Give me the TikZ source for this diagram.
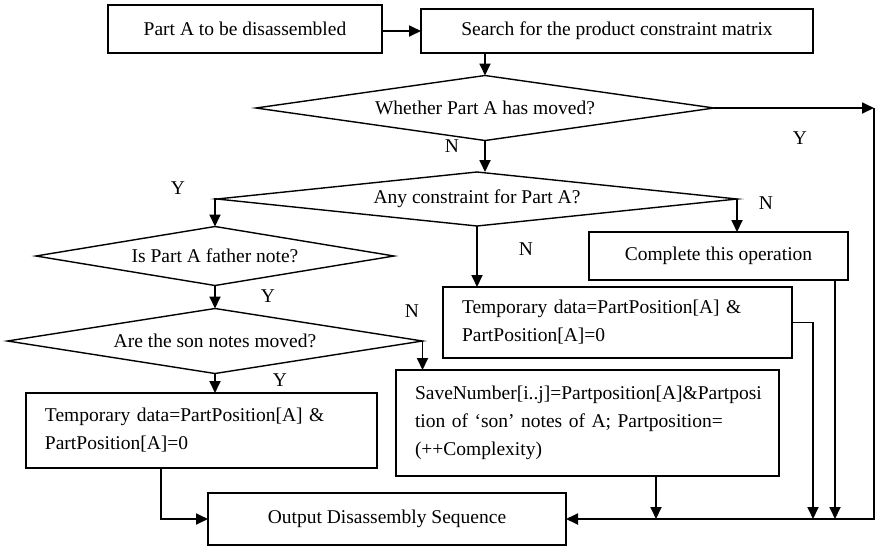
\documentclass[tikz,border=0pt]{standalone}
\usepackage{fontspec}
\setmainfont{Liberation Serif}
\usepackage{tikz}
\usetikzlibrary{arrows.meta, shapes.geometric}

\begin{document}
\begin{tikzpicture}[x=1pt, y=-1pt,
        font=\fontsize{19.5}{28}\selectfont,
        box/.style={draw, line width=1.4pt, inner sep=0pt, outer sep=0pt},
        textbox/.style={box, align=left, inner xsep=19pt},
        decision/.style={draw, diamond, line width=1.4pt, inner sep=0pt, outer sep=0pt, aspect=8},
        flow/.style={line width=1.8pt, -{Triangle[length=12pt, width=11pt]}},
        line/.style={line width=1.8pt}]
        \useasboundingbox (0,0) rectangle (876,547);

        % Boxes
        \node[box, minimum width=274pt, minimum height=48pt] (part) at (245,29) {Part A to be disassembled};
        \node[box, minimum width=392pt, minimum height=44pt] (srch) at (617,31) {Search for the product constraint matrix};
        \node[box, minimum width=259pt, minimum height=48pt] (done) at (718.5,256) {Complete this operation};
        \node[textbox, text width=311pt, minimum height=71pt] (tmpR) at (617.5,322.5) {Temporary data=PartPosition[A] \&\\PartPosition[A]=0};
        \node[textbox, text width=313pt, minimum height=75pt] (tmpL) at (201.5,430.5) {Temporary data=PartPosition[A] \&\\PartPosition[A]=0};
        \node[textbox, text width=345pt, minimum height=106pt] (save) at (587.5,423) {SaveNumber[i..j]=Partposition[A]\&Partposi\\tion of `son' notes of A; Partposition=\\(++Complexity)};
        \node[box, minimum width=358pt, minimum height=52pt] (out) at (387,519) {Output Disassembly Sequence};

        % Decisions
        \node[decision, minimum width=458pt, minimum height=65pt] (d1) at (485,108) {Whether Part A has moved?};
        \node[decision, minimum width=520pt, minimum height=54pt] (d2) at (477,199) {Any constraint for Part A?};
        \node[decision, minimum width=358pt, minimum height=59pt] (d3) at (215,256) {Is Part A father note?};
        \node[decision, minimum width=415pt, minimum height=65pt] (d4) at (215,341) {Are the son notes moved?};

        % Corners of the return lines
        \coordinate (rtop) at (874,108);
        \coordinate (rbot) at (874,519);
        \coordinate (lb) at (161,519);
        \coordinate (sv) at (656,519);
        \coordinate (rj) at (813,519);
        \coordinate (dn) at (835,519);

        % Arrows
        \draw[flow] (part.east |- srch.west) -- (srch.west);
        \draw[flow] (d1.north |- srch.south) -- (d1.north);
        \draw[flow] (d1.east) -- (rtop);
        \draw[flow] (rtop) -- (rbot) -- (out.east);
        \draw[flow] (d1.south) -- (d1.south |- d2.north);
        \draw[flow] (d2.west) -| (d3.north);
        \draw[flow] (d2.east) -- (d2.east |- done.north);
        \draw[flow] (d2.south) -- (d2.south |- tmpR.north);
        \draw[flow] (d3.south) -- (d4.north);
        \draw[flow] (d4.east) -- (d4.east |- save.north);
        \draw[flow] (d4.south) -- (d4.south |- tmpL.north);
        \draw[flow] (tmpL.south -| lb) |- (out.west);
        \draw[flow] (save.south -| sv) -- (sv);
        \draw[flow] (tmpR.east) -| (rj);
        \draw[flow] (done.south -| dn) -- (dn);

        % Y / N labels
        \node (y1) at (800,138) {Y};
        \node (n1) at (452,146) {N};
        \node (y2) at (178,188) {Y};
        \node (n2) at (766,203) {N};
        \node (n3) at (526,249) {N};
        \node (y3) at (268,296) {Y};
        \node (n4) at (412,311) {N};
        \node (y4) at (280,380) {Y};
    \end{tikzpicture}
\end{document}
